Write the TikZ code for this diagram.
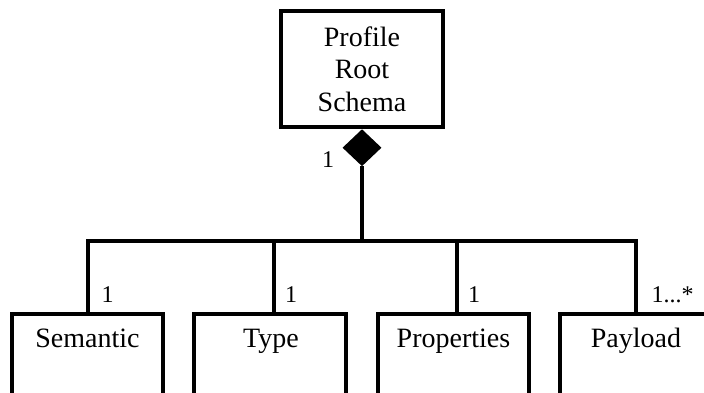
\documentclass[tikz,border=0pt]{standalone}
\usepackage{fontspec}
\setmainfont{Liberation Serif}
\usetikzlibrary{shapes.geometric}
\begin{document}
\begin{tikzpicture}[x=1pt,y=-1pt,
  cls/.style={draw, line width=4pt, rectangle, inner sep=0pt},
  lbl/.style={font=\fontsize{28}{32.5}\selectfont, inner sep=0pt},
  mult/.style={font=\fontsize{24}{28}\selectfont, inner sep=0pt, anchor=base},
  conn/.style={line width=4pt}]
\useasboundingbox (0,0) rectangle (704,392);
\clip (0,0) rectangle (704,392);
% root
\node[cls, minimum width=162pt, minimum height=116pt] (root) at (362,69) {};
\node[lbl, align=center] (roott) at (362,69) {Profile\\Root\\Schema};
\node[diamond, fill=black, inner sep=0pt, minimum width=39pt, minimum height=37pt, anchor=north] (dia) at (root.south) {};
\node[mult] (m0) at (328,167) {1};
% children
\node[cls, minimum width=151pt, minimum height=110pt, anchor=north] (sem) at (87.5,312) {};
\node[cls, minimum width=152pt, minimum height=110pt, anchor=north] (typ) at (270,312) {};
\node[cls, minimum width=151pt, minimum height=110pt, anchor=north] (pro) at (453.5,312) {};
\node[cls, minimum width=151pt, minimum height=110pt, anchor=north] (pay) at (635.5,312) {};
\node[lbl, anchor=base] (semt) at (87.5,347) {Semantic};
\node[lbl, anchor=base] (typt) at (271,347) {Type};
\node[lbl, anchor=base] (prot) at (453.5,347) {Properties};
\node[lbl, anchor=base] (payt) at (636,347) {Payload};
% connectors
\coordinate (bus) at (362,241);
\draw[conn] (dia.south) -- (bus);
\draw[conn, line join=miter] (sem.north) |- (bus) -| (pay.north);
\draw[conn] ([xshift=4pt]typ.north) -- ([xshift=4pt]typ.north |- bus);
\draw[conn] ([xshift=3.5pt]pro.north) -- ([xshift=3.5pt]pro.north |- bus);
% multiplicities
\node[mult] (m1) at (107.5,302) {1};
\node[mult] (m2) at (291,302) {1};
\node[mult] (m3) at (474,302) {1};
\node[mult] (m4) at (672.5,302) {1...*};
\end{tikzpicture}
\end{document}
